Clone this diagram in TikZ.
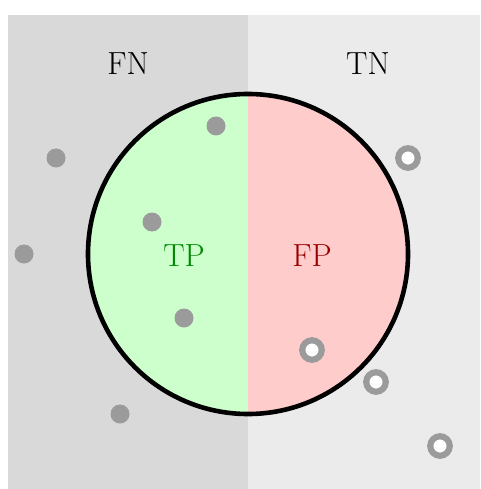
\documentclass[tikz,border=0pt]{standalone}
\begin{document}
\begin{tikzpicture}[x=1pt,y=-1pt,
  dot/.style={circle,fill=dotgray,inner sep=0pt,minimum size=19pt},
  ring/.style={circle,draw=dotgray,line width=6.2pt,fill=white,inner sep=0pt,minimum size=19.5pt},
  lbl/.style={font=\fontsize{32}{38}\selectfont}]
\definecolor{dotgray}{RGB}{155,155,155}
\definecolor{fnbg}{RGB}{217,217,217}
\definecolor{tnbg}{RGB}{235,235,235}
\definecolor{tpfill}{RGB}{204,255,204}
\definecolor{fpfill}{RGB}{255,204,204}
\definecolor{tpcol}{RGB}{0,136,0}
\definecolor{fpcol}{RGB}{153,0,0}
\useasboundingbox (0,0) rectangle (480,489);
\clip (0,0) rectangle (480,489);
\fill[fnbg] (8,15) rectangle (248,495);
\fill[tnbg] (248,15) rectangle (488,495);
\coordinate (c) at (248,254);
\fill[tpfill] (248,94) arc[start angle=-90,end angle=-270,radius=160] -- cycle;
\fill[fpfill] (248,94) arc[start angle=-90,end angle=90,radius=160] -- cycle;
\draw[line width=4.6pt] (c) circle[radius=160];
\node[lbl] (fn) at (128,64) {FN};
\node[lbl] (tn) at (368,64) {TN};
\node[lbl,text=tpcol] (tp) at (184,256) {TP};
\node[lbl,text=fpcol] (fp) at (312,256) {FP};
\node[dot] (d1) at (56,158) {};
\node[dot] (d2) at (216,126) {};
\node[dot] (d3) at (152,222) {};
\node[dot] (d4) at (24,254) {};
\node[dot] (d5) at (184,318) {};
\node[dot] (d6) at (120,414) {};
\node[ring] (r1) at (408,158) {};
\node[ring] (r2) at (312,350) {};
\node[ring] (r3) at (376,382) {};
\node[ring] (r4) at (440,446) {};
\end{tikzpicture}
\end{document}
